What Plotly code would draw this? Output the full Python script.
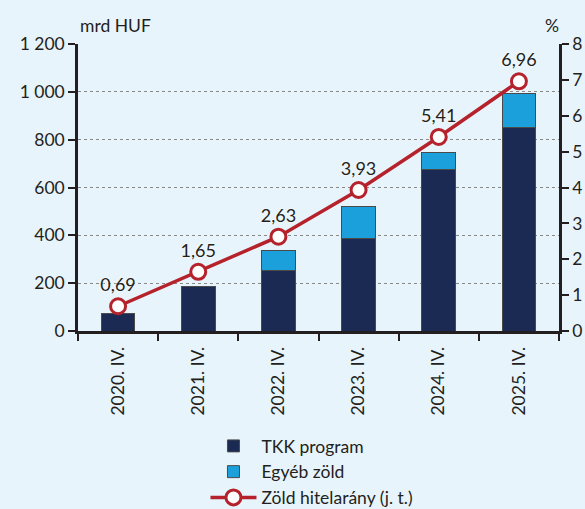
import plotly.graph_objects as go

categories = ["2020. IV.", "2021. IV.", "2022. IV.", "2023. IV.", "2024. IV.", "2025. IV."]
tkk_program = [74, 185, 255, 386, 674, 851]
egyeb_zold = [0, 0, 81, 134, 74, 144]
zold_arany = [0.69, 1.65, 2.63, 3.93, 5.41, 6.96]

FONT = "Lato"
FS = 17.5
BG = "#E8F4FB"
TXT = "#231F20"

fig = go.Figure()
fig.add_trace(go.Bar(
    x=categories, y=tkk_program, name="TKK program",
    marker=dict(color="#1B2A52", line=dict(color="#4A4A4A", width=1)),
    width=0.42,
))
fig.add_trace(go.Bar(
    x=categories, y=egyeb_zold, name="Egyéb zöld",
    marker=dict(color="#1BA0DB", line=dict(color="#4A4A4A", width=1)),
    width=0.42,
))
fig.add_trace(go.Scatter(
    x=categories, y=zold_arany, name="Zöld hitelarány (j. t.)",
    yaxis="y2", mode="lines+markers+text",
    line=dict(color="#B5222B", width=3.5),
    marker=dict(symbol="circle", size=15, color="white", line=dict(color="#B5222B", width=3)),
    texttemplate="%{y:.2f}", textposition="top center",
    textfont=dict(size=FS + 0.5, color=TXT, family=FONT, shadow="0px 0px 3px white"),
    cliponaxis=False,
))

fig.update_layout(
    width=585, height=509,
    paper_bgcolor=BG, plot_bgcolor=BG,
    separators=", ",
    barmode="stack",
    font=dict(family=FONT, size=FS, color=TXT),
    margin=dict(l=78, r=26, t=44, b=178, autoexpand=False),
    xaxis=dict(
        automargin=False,
        showgrid=False, tickangle=-90, ticks="outside", tickson="boundaries",
        ticklen=7, tickwidth=2, tickcolor="#231F20",
        showline=True, linecolor="#231F20", linewidth=2.5,
        ticklabelstandoff=6,
        tickfont=dict(size=FS, family=FONT, color=TXT),
    ),
    yaxis=dict(
        automargin=False,
        range=[0, 1200], dtick=200, tickformat=",d",
        showgrid=True, gridcolor="#8A8A8A", griddash="dot", gridwidth=1,
        ticks="outside", ticklen=7, tickwidth=2, tickcolor="#231F20",
        showline=True, linecolor="#231F20", linewidth=2.5,
        zeroline=False,
        tickfont=dict(size=FS, family=FONT, color=TXT),
    ),
    yaxis2=dict(
        automargin=False,
        range=[0, 8], dtick=1, overlaying="y", side="right",
        showgrid=False, ticks="outside", ticklen=7, tickwidth=2, tickcolor="#231F20",
        showline=True, linecolor="#231F20", linewidth=2.5,
        zeroline=False,
        tickfont=dict(size=FS, family=FONT, color=TXT),
    ),
    legend=dict(
        orientation="v", traceorder="normal",
        x=0.265, xanchor="left", y=-0.338, yanchor="top",
        bgcolor="rgba(0,0,0,0)", font=dict(size=17.5, family=FONT, color=TXT),
        itemwidth=46, tracegroupgap=0,
    ),
    showlegend=True,
    annotations=[
        dict(text="mrd HUF", xref="paper", yref="paper", x=0.0, y=1.02,
             xanchor="left", yanchor="bottom", showarrow=False,
             font=dict(size=FS, family=FONT, color=TXT)),
        dict(text="%", xref="paper", yref="paper", x=0.985, y=1.02,
             xanchor="center", yanchor="bottom", showarrow=False,
             font=dict(size=FS, family=FONT, color=TXT)),
    ],
)

fig.write_html(
    "out.html",
    config={"displayModeBar": False},
    post_script="document.body.style.margin='0';document.body.style.overflow='hidden';",
)
